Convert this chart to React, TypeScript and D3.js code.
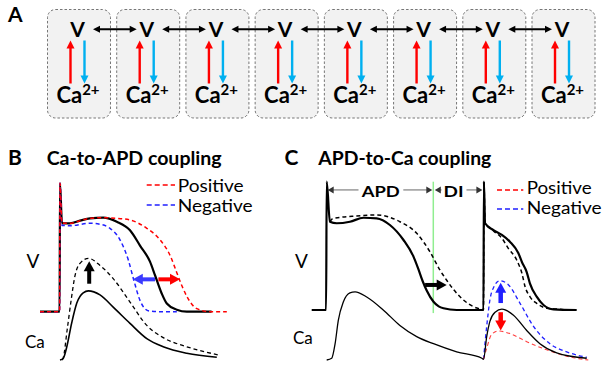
import React from "react";
import * as d3 from "d3";

type Pt = [number, number];

// ---------- Panel A ----------
const cellIds = ["c1", "c2", "c3", "c4", "c5", "c6", "c7", "c8"];
const cellTopLabel = "V";
const cellBottomLabel = "Ca";
const cellBottomSup = "2+";

// ---------- Titles / legends ----------
const panelLetters = ["A", "B", "C"];
const panelBTitle = "Ca-to-APD coupling";
const panelCTitle = "APD-to-Ca coupling";
const legendLabels = ["Positive", "Negative"];
const traceLabels = ["V", "Ca"];
const intervalLabels = ["APD", "DI"];

// ---------- Panel B (time ms, V mV, Ca a.u.) ----------
const bVControl: Pt[] = [[-50, -85], [-1, -85], [0, 40], [5, 1], [25, 1], [50, 3.6], [75, 5.9], [108, 6.5], [142, 2.6], [175, -5.7], [200, -20.6], [225, -36.3], [238, -50], [254, -67], [267, -77], [292, -83], [317, -85], [379, -85]];
const bVPositive: Pt[] = [[-50, -85], [-1, -85], [0, 40], [5, 1], [25, 1], [50, 3.6], [75, 5.9], [108, 6.5], [140, 6], [175, 4.3], [217, -3.8], [250, -15], [275, -30], [292, -47], [305, -60], [317, -70], [342, -82], [375, -85], [417, -85]];
const bVNegative: Pt[] = [[-50, -85], [-1, -85], [0, 40], [5, -1], [25, -1.3], [75, 1.1], [100, 0.1], [125, -3.8], [150, -15], [171, -35], [185, -55], [200, -74], [212, -82], [225, -84.5], [250, -85], [292, -85]];
const bCaControl: Pt[] = [[0, 0], [8, 0.015], [17, 0.13], [29, 0.36], [42, 0.56], [58, 0.66], [71, 0.68], [100, 0.64], [133, 0.52], [175, 0.36], [217, 0.21], [258, 0.13], [317, 0.066], [392, 0.027]];
const bCaIncreased: Pt[] = [[5, 0], [8, 0.02], [18, 0.3], [29, 0.62], [37, 0.82], [50, 0.95], [71, 1.0], [100, 0.93], [133, 0.8], [175, 0.57], [217, 0.34], [258, 0.22], [317, 0.13], [396, 0.05]];

// ---------- Panel C ----------
const cVControl: Pt[] = [[-37.5, -85], [-1.5, -85], [0, 40], [8, 1], [25, -0.5], [58, 1], [92, 4.9], [125, 4.3], [158, -2.2], [192, -16.8], [217, -33], [229, -45], [240, -57], [250, -66], [267, -77], [280, -81.5], [292, -83.3], [325, -85], [392, -85], [393, 40], [396, -0.5], [417, -7.1], [438, -11.9], [458, -18.5], [479, -29.5], [488, -38.2], [500, -48], [508, -59], [525, -72], [542, -80.1], [567, -84.3], [625, -85]];
const cVLonger: Pt[] = [[8, 1], [15, 4], [75, 6.6], [125, 7.6], [183, 1], [225, -10.3], [258, -28.2], [283, -46], [300, -56], [317, -65], [342, -75.3], [367, -81.8], [388, -84.5], [392, -85], [393, 40], [396, -0.5], [417, -8], [438, -15.1], [454, -24.9], [475, -36.3], [488, -49.2], [496, -62.3], [508, -72], [525, -78.5], [550, -83.3], [583, -84.3], [600, -85]];
const cCaControl: Pt[] = [[0, 0], [12.5, 0.017], [21, 0.16], [29, 0.39], [41.5, 0.57], [58, 0.66], [71, 0.67], [100, 0.62], [142, 0.49], [183, 0.34], [225, 0.23], [267, 0.16], [325, 0.08], [388, 0.017], [392, 0.007], [400, 0.23], [408, 0.38], [421, 0.47], [438, 0.5], [467, 0.44], [500, 0.29], [533, 0.16], [575, 0.07], [650, 0.017]];
const cCaNegative: Pt[] = [[392, 0.007], [400, 0.33], [408, 0.59], [418, 0.72], [433, 0.78], [454, 0.74], [483, 0.56], [517, 0.33], [558, 0.16], [600, 0.08], [650, 0.027]];
const cCaPositive: Pt[] = [[392, 0.007], [400, 0.115], [412, 0.25], [429, 0.285], [458, 0.26], [500, 0.18], [550, 0.1], [608, 0.03], [654, 0]];
const cAPDEnd = 266.5;
const cNextBeat = 393;

const FONT = "Lato, 'Open Sans', sans-serif";
const RED = "#ff0000";
const BLUE = "#2020ff";
const CYAN = "#00b0f0";

function Arrow(props: {
  x1: number; y1: number; x2: number; y2: number; color: string;
  width: number; headLen: number; headW: number; both?: boolean;
}) {
  const { x1, y1, x2, y2, color, width, headLen, headW, both } = props;
  const dx = x2 - x1, dy = y2 - y1;
  const L = Math.hypot(dx, dy);
  const ux = dx / L, uy = dy / L;
  const px = -uy, py = ux;
  const head = (tx: number, ty: number, vx: number, vy: number) => {
    const bx = tx - vx * headLen, by = ty - vy * headLen;
    return `${tx},${ty} ${bx + (px * headW) / 2},${by + (py * headW) / 2} ${bx - (px * headW) / 2},${by - (py * headW) / 2}`;
  };
  const sx = both ? x1 + ux * headLen * 0.8 : x1;
  const sy = both ? y1 + uy * headLen * 0.8 : y1;
  const ex = x2 - ux * headLen * 0.8, ey = y2 - uy * headLen * 0.8;
  return (
    <g>
      <line x1={sx} y1={sy} x2={ex} y2={ey} stroke={color} strokeWidth={width} />
      <polygon points={head(x2, y2, ux, uy)} fill={color} />
      {both && <polygon points={head(x1, y1, -ux, -uy)} fill={color} />}
    </g>
  );
}

export default function App() {
  // Panel A layout
  const band = d3.scaleBand<string>().domain(cellIds).range([47.5, 595]).paddingInner(0.09).paddingOuter(0);
  const bw = band.bandwidth();
  const centers = cellIds.map((id) => (band(id) as number) + bw / 2);

  // Panel B scales
  const xB = d3.scaleLinear().domain([-50, 420]).range([40, 228]);
  const yVB = d3.scaleLinear().domain([-85, 40]).range([311.7, 183.3]);
  const yCaB = d3.scaleLinear().domain([0, 1]).range([360, 258.3]);
  // Panel C scales
  const xC = d3.scaleLinear().domain([-37.5, 660]).range([311.7, 590.7]);
  const yVC = d3.scaleLinear().domain([-85, 40]).range([310, 181.7]);
  const yCaC = d3.scaleLinear().domain([0, 1]).range([360, 258.3]);

  const mk = (x: d3.ScaleLinear<number, number>, y: d3.ScaleLinear<number, number>) =>
    d3.line<Pt>().x((d) => x(d[0])).y((d) => y(d[1])).curve(d3.curveMonotoneX);
  const lVB = mk(xB, yVB), lCaB = mk(xB, yCaB), lVC = mk(xC, yVC), lCaC = mk(xC, yCaC);

  const apdY = yVC(32);

  return (
    <svg width={603} height={368} style={{ position: "absolute", left: 0, top: 0, background: "#fff" }} fontFamily={FONT}>
      <rect x={0} y={0} width={603} height={368} fill="#fff" />
      {/* ---------- Panel A ---------- */}
      <text x={8} y={21.5} fontSize={21} fontWeight="bold">{panelLetters[0]}</text>
      {cellIds.map((id, i) => {
        const cx = centers[i];
        return (
          <g key={id}>
            <rect x={band(id)} y={9.5} width={bw} height={108.5} rx={8} fill="#f2f2f2" stroke="#666" strokeWidth={0.9} strokeDasharray="2.5,2" />
            <text x={cx - 1.5} y={36.7} fontSize={21} fontWeight="bold" textAnchor="middle">{cellTopLabel}</text>
            <Arrow x1={cx - 8.5} y1={83.5} x2={cx - 8.5} y2={40.5} color={RED} width={2.4} headLen={8} headW={8} />
            <Arrow x1={cx + 5.5} y1={40.5} x2={cx + 5.5} y2={83.5} color={CYAN} width={2.4} headLen={8} headW={8} />
            <text x={cx - 1} y={102.7} fontSize={22} fontWeight="bold" textAnchor="middle">
              {cellBottomLabel}
              <tspan dy={-8} fontSize={15}>{cellBottomSup}</tspan>
            </text>
          </g>
        );
      })}
      {centers.slice(0, -1).map((cx, i) => (
        <Arrow key={"d" + i} x1={cx + 14} y1={29.3} x2={centers[i + 1] - 11.5} y2={29.3} color="#000" width={2} headLen={7} headW={7} both />
      ))}

      {/* ---------- Panel B ---------- */}
      <text x={8} y={165} fontSize={21} fontWeight="bold">{panelLetters[1]}</text>
      <text x={46.7} y={165} fontSize={18} fontWeight="bold" textLength={175} lengthAdjust="spacingAndGlyphs">{panelBTitle}</text>
      <line x1={146.7} x2={175} y1={185} y2={185} stroke={RED} strokeWidth={1.5} strokeDasharray="5,3" />
      <text x={177.7} y={191.7} fontSize={17} textLength={66} lengthAdjust="spacingAndGlyphs">{legendLabels[0]}</text>
      <line x1={146.7} x2={175} y1={205} y2={205} stroke={BLUE} strokeWidth={1.5} strokeDasharray="5,3" />
      <text x={177.7} y={212} fontSize={17} textLength={75} lengthAdjust="spacingAndGlyphs">{legendLabels[1]}</text>
      <text x={26.5} y={268} fontSize={19}>{traceLabels[0]}</text>
      <text x={25} y={348.3} fontSize={17}>{traceLabels[1]}</text>

      <path d={lVB(bVControl) || ""} fill="none" stroke="#000" strokeWidth={2.2} />
      <path d={lVB(bVNegative) || ""} fill="none" stroke={BLUE} strokeWidth={1.5} strokeDasharray="4,3" />
      <path d={lVB(bVPositive) || ""} fill="none" stroke={RED} strokeWidth={1.5} strokeDasharray="4,3" />
      <path d={lCaB(bCaControl) || ""} fill="none" stroke="#000" strokeWidth={1.6} />
      <path d={lCaB(bCaIncreased) || ""} fill="none" stroke="#000" strokeWidth={1.3} strokeDasharray="4,3" />

      <Arrow x1={xB(73)} y1={yCaB(0.75)} x2={xB(73)} y2={yCaB(0.97)} color="#000" width={4} headLen={10} headW={11} />
      <Arrow x1={xB(237.5)} y1={yVB(-53.5)} x2={xB(182)} y2={yVB(-53.5)} color="#3a3aff" width={4} headLen={10} headW={11} />
      <Arrow x1={xB(246)} y1={yVB(-53.5)} x2={xB(300)} y2={yVB(-53.5)} color={RED} width={4} headLen={10} headW={11} />

      {/* ---------- Panel C ---------- */}
      <text x={284.5} y={165} fontSize={21} fontWeight="bold">{panelLetters[2]}</text>
      <text x={318.3} y={165} fontSize={18} fontWeight="bold" textLength={173} lengthAdjust="spacingAndGlyphs">{panelCTitle}</text>
      <line x1={497} x2={523.3} y1={190} y2={190} stroke={RED} strokeWidth={1.3} strokeDasharray="5,3" />
      <text x={526.7} y={193.5} fontSize={17} textLength={65} lengthAdjust="spacingAndGlyphs">{legendLabels[0]}</text>
      <line x1={497} x2={523.3} y1={209} y2={209} stroke={BLUE} strokeWidth={1.3} strokeDasharray="5,3" />
      <text x={526.7} y={214.3} fontSize={17} textLength={75} lengthAdjust="spacingAndGlyphs">{legendLabels[1]}</text>
      <text x={295} y={268} fontSize={19}>{traceLabels[0]}</text>
      <text x={293} y={344} fontSize={17}>{traceLabels[1]}</text>

      {/* APD / DI annotation */}
      <line x1={xC(cAPDEnd)} x2={xC(cAPDEnd)} y1={yVC(40)} y2={yVC(-88)} stroke="#90ee90" strokeWidth={1.5} />
      <line x1={xC(0) + 4} x2={358.5} y1={apdY} y2={apdY} stroke="#999" strokeWidth={1.5} />
      <line x1={403.3} x2={xC(cAPDEnd) - 4} y1={apdY} y2={apdY} stroke="#999" strokeWidth={1.5} />
      <line x1={xC(cAPDEnd) + 4} x2={441.5} y1={apdY} y2={apdY} stroke="#999" strokeWidth={1.5} />
      <line x1={466.5} x2={xC(cNextBeat) - 4} y1={apdY} y2={apdY} stroke="#999" strokeWidth={1.5} />
      <polygon points={`${xC(0) + 1},${apdY} ${xC(0) + 7},${apdY - 3.5} ${xC(0) + 7},${apdY + 3.5}`} fill="#333" />
      <polygon points={`${xC(cAPDEnd) - 1},${apdY} ${xC(cAPDEnd) - 7},${apdY - 3.5} ${xC(cAPDEnd) - 7},${apdY + 3.5}`} fill="#333" />
      <polygon points={`${xC(cAPDEnd) + 1.5},${apdY} ${xC(cAPDEnd) + 7.5},${apdY - 3.5} ${xC(cAPDEnd) + 7.5},${apdY + 3.5}`} fill="#333" />
      <polygon points={`${xC(cNextBeat) - 1.5},${apdY} ${xC(cNextBeat) - 7.5},${apdY - 3.5} ${xC(cNextBeat) - 7.5},${apdY + 3.5}`} fill="#333" />
      <text x={361.7} y={196.7} fontSize={14.5} fontWeight="bold" textLength={38} lengthAdjust="spacingAndGlyphs">{intervalLabels[0]}</text>
      <text x={443.5} y={196.7} fontSize={14.5} fontWeight="bold" textLength={20} lengthAdjust="spacingAndGlyphs">{intervalLabels[1]}</text>

      <path d={lVC(cVLonger) || ""} fill="none" stroke="#000" strokeWidth={1.5} strokeDasharray="4,3" />
      <path d={lVC(cVControl) || ""} fill="none" stroke="#000" strokeWidth={2.2} />
      <path d={lCaC(cCaNegative) || ""} fill="none" stroke={BLUE} strokeWidth={1.3} strokeDasharray="4,3" />
      <path d={lCaC(cCaPositive) || ""} fill="none" stroke="#ff4040" strokeWidth={1.1} strokeDasharray="4,3" />
      <path d={lCaC(cCaControl) || ""} fill="none" stroke="#000" strokeWidth={1.3} />

      <Arrow x1={xC(246)} y1={yVC(-60.6)} x2={xC(300)} y2={yVC(-60.6)} color="#000" width={4} headLen={10} headW={11} />
      <Arrow x1={xC(435)} y1={yCaC(0.56)} x2={xC(435)} y2={yCaC(0.76)} color="#2020ff" width={4.5} headLen={10} headW={11} />
      <Arrow x1={xC(435)} y1={yCaC(0.47)} x2={xC(435)} y2={yCaC(0.29)} color={RED} width={4.5} headLen={10} headW={11} />
    </svg>
  );
}
